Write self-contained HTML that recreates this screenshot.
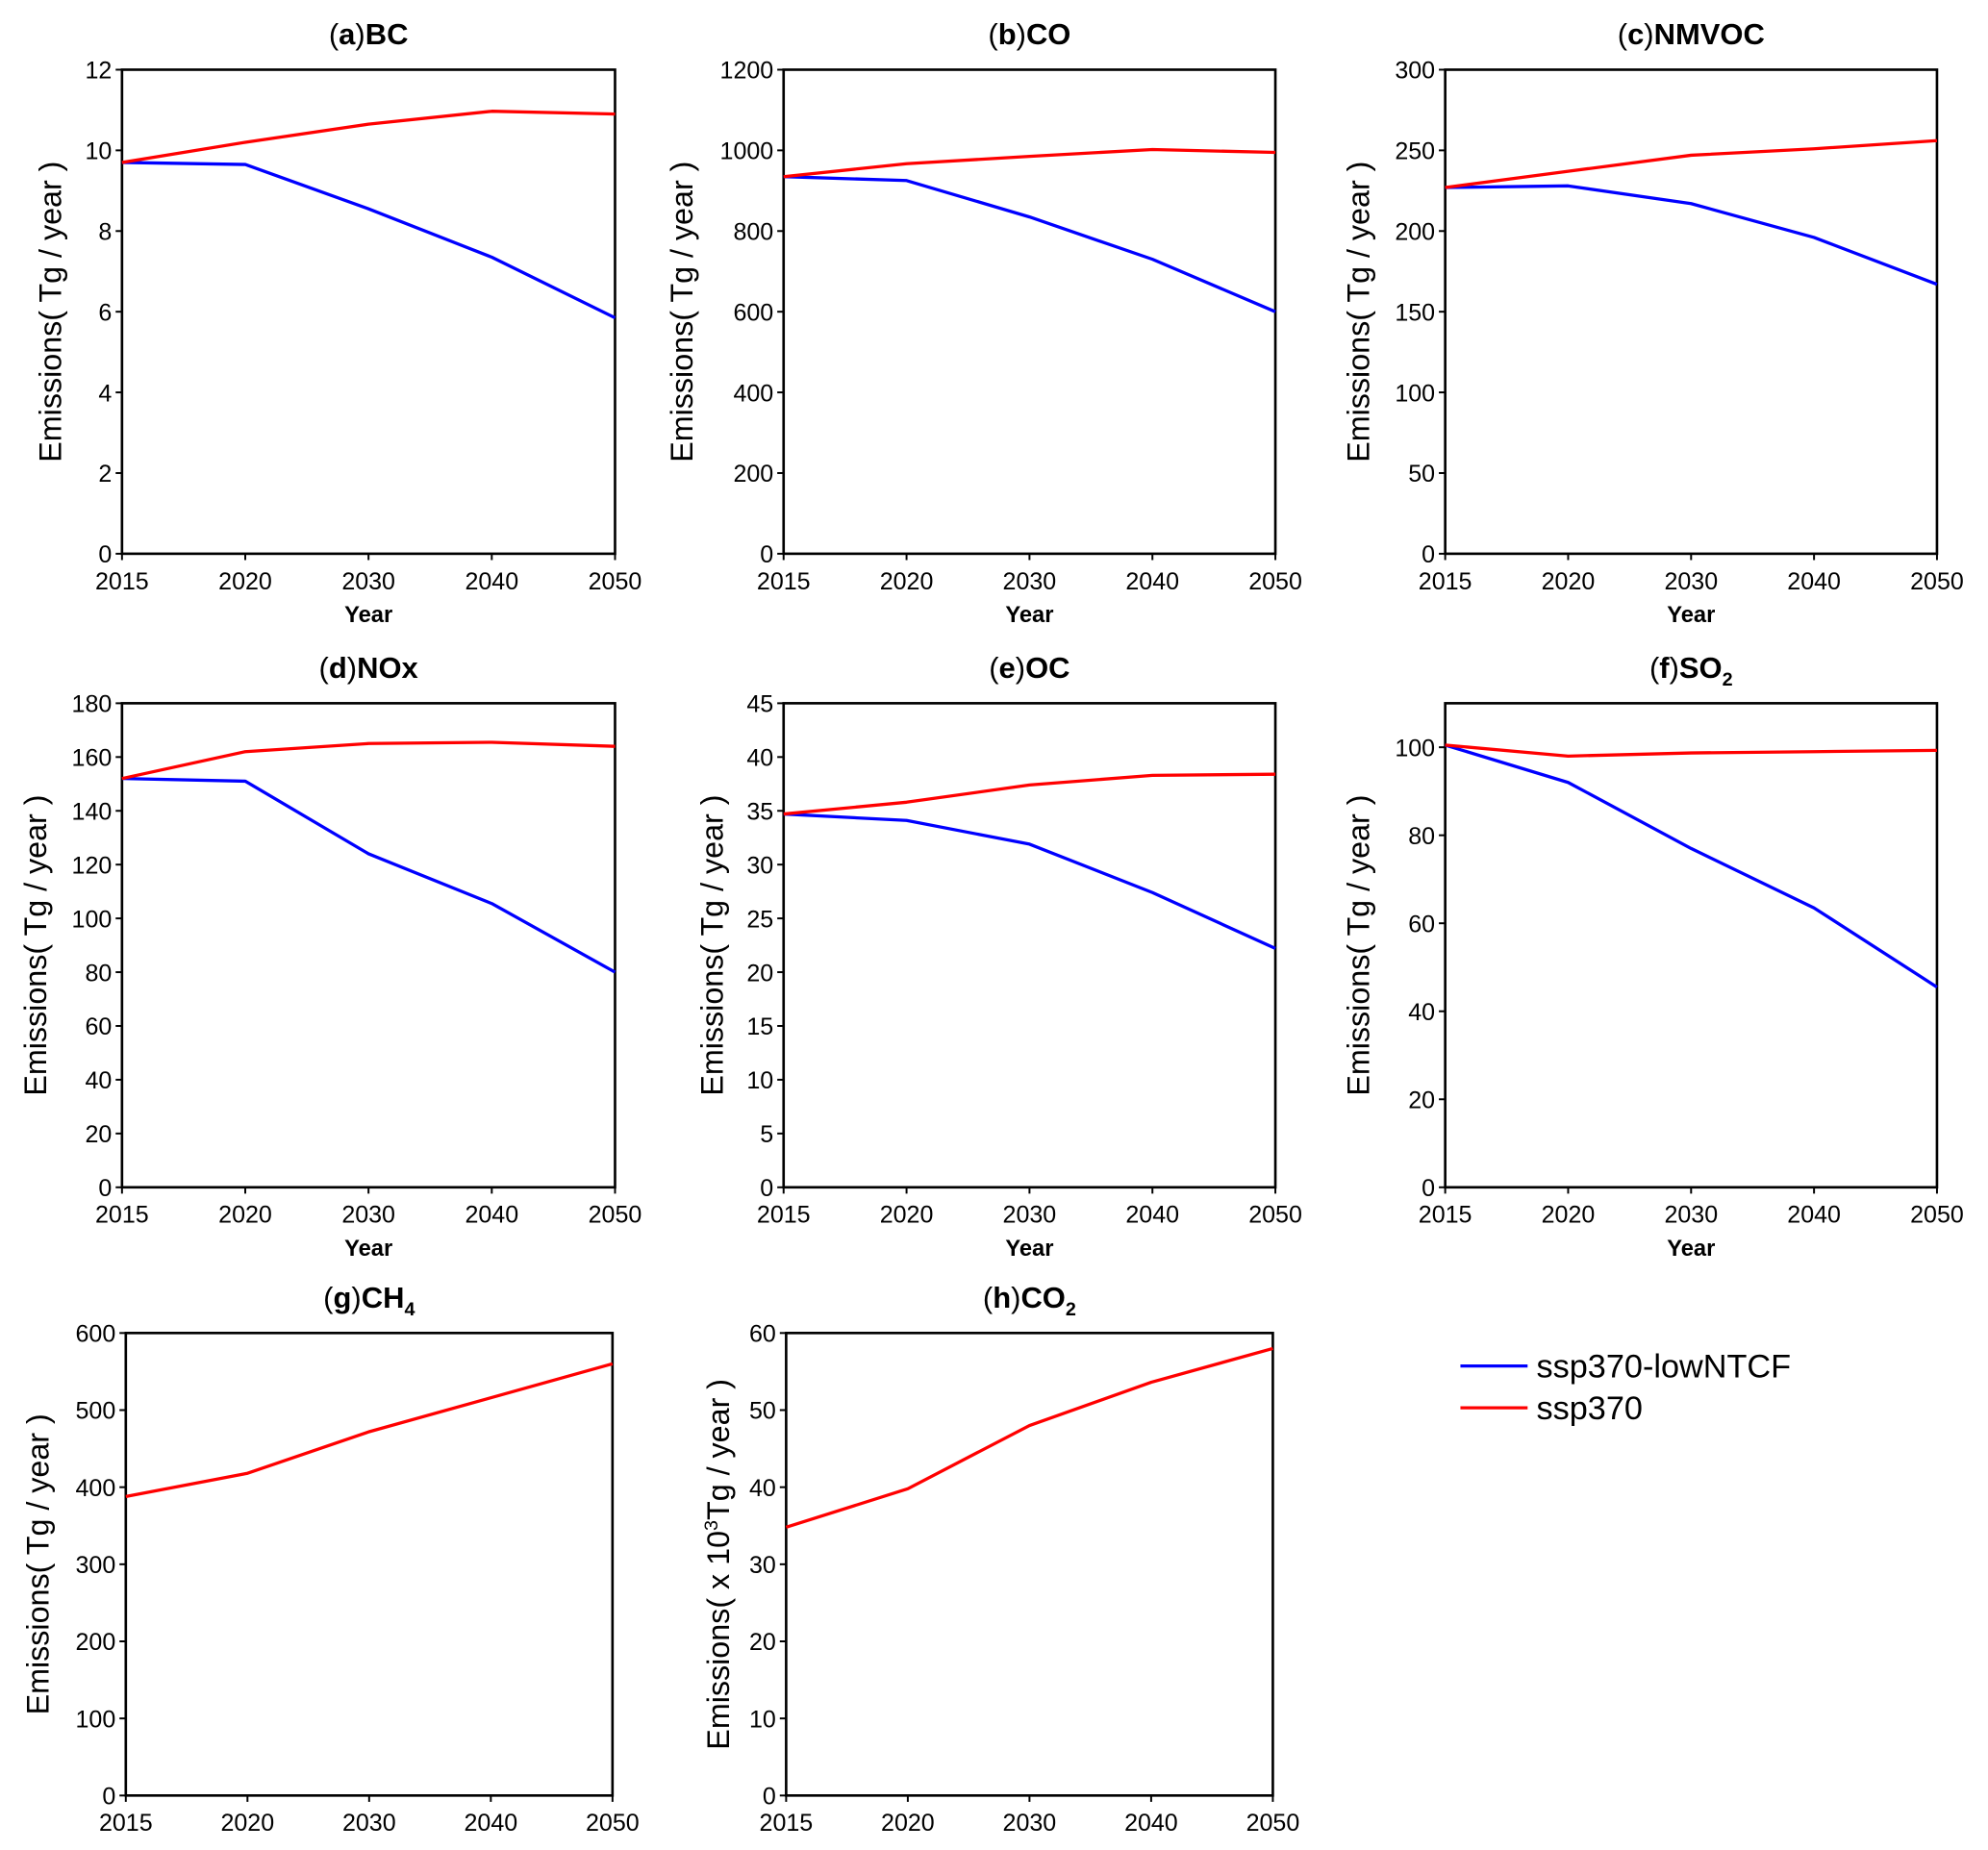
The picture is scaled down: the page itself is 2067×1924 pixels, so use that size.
<!DOCTYPE html>
<html><head><meta charset="utf-8"><style>
html,body{margin:0;padding:0;background:#fff}
svg{display:block}
text{font-family:"Liberation Sans",Arial,sans-serif;fill:#000}
</style></head><body>
<svg id="fig" width="2067" height="1924" viewBox="0 0 1568 1460" xmlns="http://www.w3.org/2000/svg">
<g>
<line x1="1152" y1="1078" x2="1205" y2="1078" stroke="#0000ff" stroke-width="2.5"/>
<text x="1212" y="1087" font-size="26">ssp370-lowNTCF</text>
<line x1="1152" y1="1111" x2="1205" y2="1111" stroke="#ff0000" stroke-width="2.5"/>
<text x="1212" y="1120" font-size="26">ssp370</text>
</g>
</svg>
<script>
const years = ["2015","2020","2030","2040","2050"];
const bcLow = [9.7,9.65,8.55,7.35,5.85];
const bcRef = [9.7,10.2,10.65,10.97,10.9];
const coLow = [935,925,835,730,600];
const coRef = [935,967,985,1002,995];
const nmvocLow = [227,228,217,196,167];
const nmvocRef = [227,237,247,251,256];
const noxLow = [152,151,124,105.5,80];
const noxRef = [152,162,165,165.5,164];
const ocLow = [34.7,34.1,31.9,27.4,22.2];
const ocRef = [34.7,35.8,37.4,38.3,38.4];
const so2Low = [100.5,92,77,63.5,45.5];
const so2Ref = [100.5,98,98.7,99,99.3];
const ch4Ref = [388,418,472,516,560];
const co2Ref = [34.8,39.8,48,53.6,58];
const bcTicks = [0,2,4,6,8,10,12];
const coTicks = [0,200,400,600,800,1000,1200];
const nmvocTicks = [0,50,100,150,200,250,300];
const noxTicks = [0,20,40,60,80,100,120,140,160,180];
const ocTicks = [0,5,10,15,20,25,30,35,40,45];
const so2Ticks = [0,20,40,60,80,100];
const ch4Ticks = [0,100,200,300,400,500,600];
const co2Ticks = [0,10,20,30,40,50,60];

const NS="http://www.w3.org/2000/svg";
const svg=document.getElementById('fig');
function mk(tag,attrs,parent,txt){const e=document.createElementNS(NS,tag);for(const k in attrs)e.setAttribute(k,attrs[k]);if(txt!==undefined)e.textContent=txt;parent.appendChild(e);return e;}

const panels=[
 {id:'bc',letter:'a',name:'BC',sub:'',x0:96,x1:485,y0:55,y1:437,ticks:bcTicks,max:12,low:bcLow,ref:bcRef,yt:40,unit:'Tg',xlab:true},
 {id:'co',letter:'b',name:'CO',sub:'',x0:618,x1:1006,y0:55,y1:437,ticks:coTicks,max:1200,low:coLow,ref:coRef,yt:538,unit:'Tg',xlab:true},
 {id:'nmvoc',letter:'c',name:'NMVOC',sub:'',x0:1140,x1:1528,y0:55,y1:437,ticks:nmvocTicks,max:300,low:nmvocLow,ref:nmvocRef,yt:1072,unit:'Tg',xlab:true},
 {id:'nox',letter:'d',name:'NOx',sub:'',x0:96,x1:485,y0:555,y1:937,ticks:noxTicks,max:180,low:noxLow,ref:noxRef,yt:28,unit:'Tg',xlab:true},
 {id:'oc',letter:'e',name:'OC',sub:'',x0:618,x1:1006,y0:555,y1:937,ticks:ocTicks,max:45,low:ocLow,ref:ocRef,yt:562,unit:'Tg',xlab:true},
 {id:'so2',letter:'f',name:'SO',sub:'2',x0:1140,x1:1528,y0:555,y1:937,ticks:so2Ticks,max:110,low:so2Low,ref:so2Ref,yt:1072,unit:'Tg',xlab:true},
 {id:'ch4',letter:'g',name:'CH',sub:'4',x0:99,x1:483,y0:1052,y1:1417,ticks:ch4Ticks,max:600,low:null,ref:ch4Ref,yt:30,unit:'Tg',xlab:false},
 {id:'co2',letter:'h',name:'CO',sub:'2',x0:620,x1:1004,y0:1052,y1:1417,ticks:co2Ticks,max:60,low:null,ref:co2Ref,yt:567,unit:'x10',xlab:false}
];

panels.forEach(p=>{
 const g=mk('g',{},svg);
 
 
 const xs=i=>p.x0+(p.x1-p.x0)*i/(years.length-1);
 const ys=v=>p.y1-(p.y1-p.y0)*v/p.max;
 const fr=mk('rect',{x:p.x0,y:p.y0,width:p.x1-p.x0,height:p.y1-p.y0,fill:'none',stroke:'#000','stroke-width':2},g);
 
 
 p.ticks.forEach(t=>{
  const y=ys(t);
  mk('line',{x1:p.x0-5,x2:p.x0,y1:y,y2:y,stroke:'#000','stroke-width':1.5},g);
  const tl=mk('text',{x:p.x0-8,y:y+7,'font-size':19,'text-anchor':'end'},g,String(t));
  
  
 });
 years.forEach((yr,i)=>{
  const x=xs(i);
  mk('line',{x1:x,x2:x,y1:p.y1,y2:p.y1+5,stroke:'#000','stroke-width':1.5},g);
  const tl=mk('text',{x:x,y:p.y1+28,'font-size':19,'text-anchor':'middle'},g,yr);
  
  
 });
 if(p.xlab){
  const xl=mk('text',{x:(p.x0+p.x1)/2,y:p.y1+54,'font-size':18,'font-weight':'bold','text-anchor':'middle'},g,'Year');
  
  
 }
 const cy=(p.y0+p.y1)/2;
 const yl=mk('text',{x:p.yt,y:cy,'font-size':24.5,'text-anchor':'middle',transform:`rotate(-90 ${p.yt} ${cy})`,dy:'8'},g);
 
 
 if(p.unit==='Tg'){ yl.textContent='Emissions( Tg / year )'; }
 else{
  mk('tspan',{},yl,'Emissions( x 10');
  mk('tspan',{dy:'-9','font-size':15},yl,'3');
  mk('tspan',{dy:'9'},yl,'Tg / year )');
 }
 const tt=mk('text',{x:(p.x0+p.x1)/2,y:p.y0-20,'font-size':23.5,'font-weight':'bold','text-anchor':'middle'},g);
 
 
 mk('tspan',{'font-weight':'normal'},tt,'(');
 mk('tspan',{},tt,p.letter);
 mk('tspan',{'font-weight':'normal'},tt,')');
 mk('tspan',{},tt,p.name);
 if(p.sub){mk('tspan',{dy:'6','font-size':15},tt,p.sub);}
 const line=(arr,col,nm)=>{
  const pts=arr.map((v,i)=>xs(i).toFixed(1)+','+ys(v).toFixed(1)).join(' ');
  const pl=mk('polyline',{points:pts,fill:'none',stroke:col,'stroke-width':2.5,'stroke-linejoin':'round'},g);
  
  
 };
 if(p.low) line(p.low,'#0000ff','line-lowntcf-'+p.id);
 line(p.ref,'#ff0000','line-ssp370-'+p.id);
});
</script>
</body></html>
